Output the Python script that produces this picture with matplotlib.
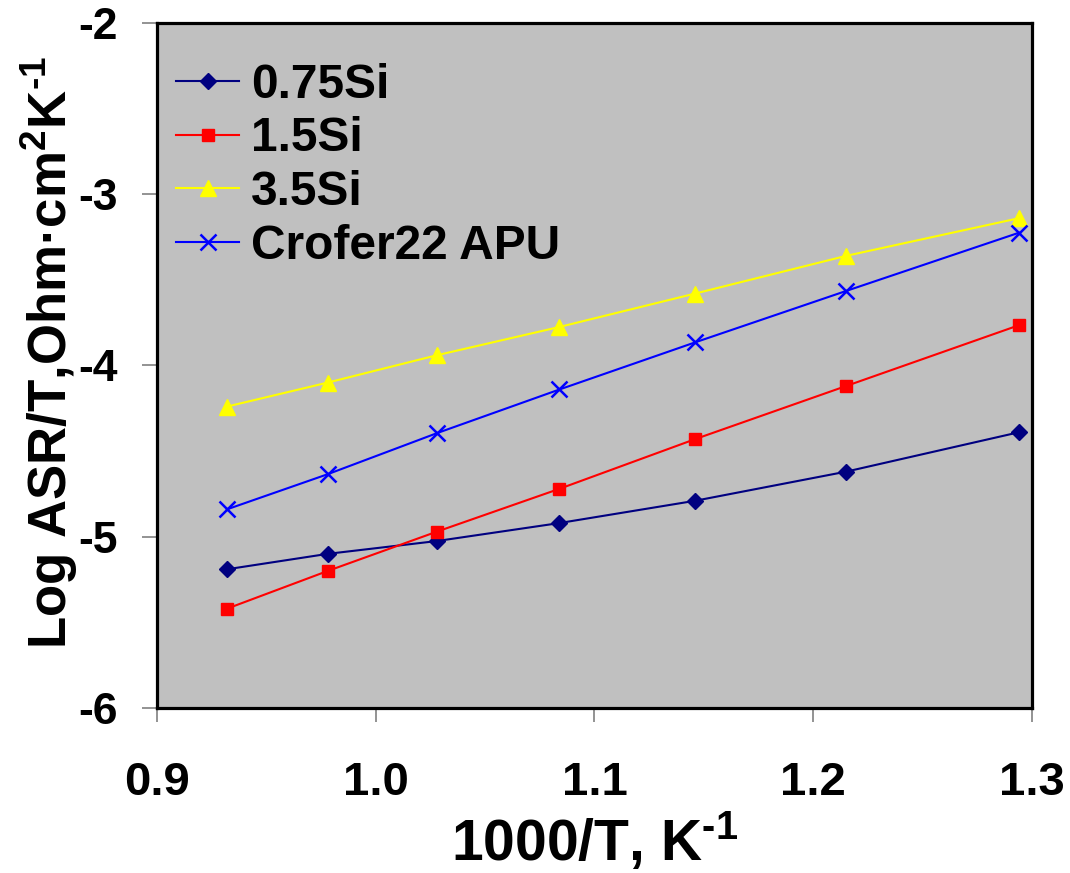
import numpy as np
import matplotlib
matplotlib.use("Agg")
import matplotlib.pyplot as plt

plt.rcParams['font.family'] = ['Liberation Sans', 'DejaVu Sans']
plt.rcParams['font.weight'] = 'bold'
plt.rcParams['mathtext.fontset'] = 'custom'
plt.rcParams['mathtext.rm'] = 'Liberation Sans:bold'
plt.rcParams['mathtext.bf'] = 'Liberation Sans:bold'
plt.rcParams['mathtext.default'] = 'bf'

# 1000/T for 800..500 C
inv_T = [0.932, 0.978, 1.028, 1.084, 1.146, 1.215, 1.294]

si_075 = [-5.19, -5.10, -5.025, -4.92, -4.79, -4.62, -4.39]
si_15 = [-5.42, -5.20, -4.97, -4.72, -4.43, -4.12, -3.765]
si_35 = [-4.24, -4.10, -3.94, -3.775, -3.58, -3.36, -3.14]
crofer = [-4.84, -4.635, -4.395, -4.14, -3.865, -3.565, -3.225]

labels = ['0.75Si', '1.5Si', '3.5Si', 'Crofer22 APU']

fig = plt.figure(figsize=(10.7, 8.73), dpi=100)
ax = fig.add_axes([0.1467, 0.189, 0.8178, 0.7847])
ax.set_facecolor('#C0C0C0')

ax.plot(inv_T, si_075, color='#000080', marker='D', markersize=8, lw=1.5, label=labels[0])
ax.plot(inv_T, si_15, color='#FF0000', marker='s', markersize=9, lw=1.5, label=labels[1])
ax.plot(inv_T, si_35, color='#FFFF00', marker='^', markersize=12, lw=1.5, label=labels[2])
ax.plot(inv_T, crofer, color='#0000FF', marker='x', markersize=11, mew=1.8, lw=1.5, label=labels[3])

ax.set_xlim(0.9, 1.3)
ax.set_ylim(-6, -2)
ax.set_xticks([0.9, 1.0, 1.1, 1.2, 1.3])
ax.set_xticklabels(['0.9', '1.0', '1.1', '1.2', '1.3'])
ax.set_yticks([-6, -5, -4, -3, -2])
ax.set_yticklabels(['-6', '-5', '-4', '-3', '-2'])

for s in ax.spines.values():
    s.set_linewidth(2.3)
    s.set_color('black')
ax.tick_params(axis='x', direction='out', length=10, width=1.2, color='#808080', labelsize=34, pad=28)
ax.tick_params(axis='y', direction='out', length=11, width=1.2, color='#808080', labelsize=32, pad=17)

ax.set_xlabel('1000/T, K$^{\u2010 1}$', fontsize=41, fontweight='bold', labelpad=4)
ax.set_ylabel('Log ASR/T,Ohm\u00b7cm$^{2}$K$^{\u2010 1}$', fontsize=38, fontweight='bold')
ax.yaxis.set_label_coords(-0.088, 0.519)

leg = ax.legend(loc='upper left', bbox_to_anchor=(0.0, 0.97), frameon=False, fontsize=34.5,
                handlelength=1.32, handletextpad=0.25, labelspacing=0.18, borderaxespad=0.0)

fig.savefig('out.png', dpi=100)
